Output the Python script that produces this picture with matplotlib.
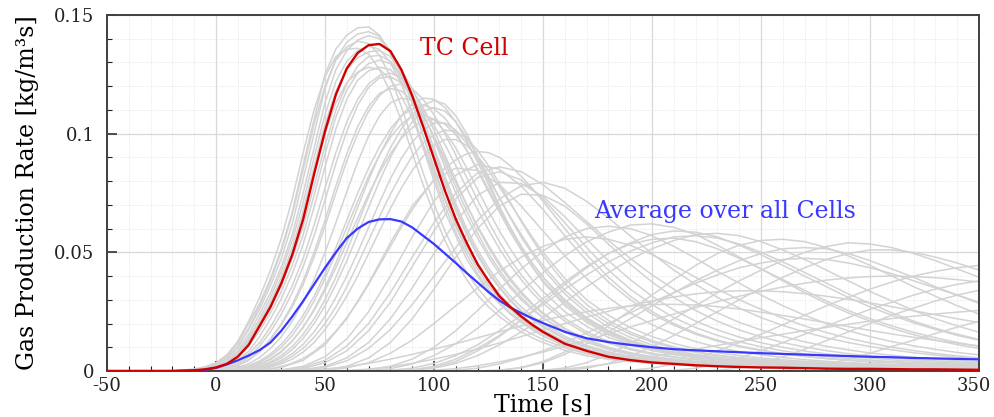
import numpy as np
import matplotlib
matplotlib.use("Agg")
import matplotlib.pyplot as plt
from matplotlib.ticker import MultipleLocator, FixedLocator, FuncFormatter
from matplotlib.transforms import ScaledTranslation

plt.rcParams["font.family"] = ["DejaVu Serif"]
plt.rcParams["axes.unicode_minus"] = False

# Sampling grids [s]: 5 s steps around the main reaction, 10 s elsewhere
t_fine = np.r_[np.arange(-50, -5, 10), np.arange(-5, 151, 5), np.arange(160, 351, 10)]
t_coarse = np.arange(-50, 351, 10)

# Rates below are in 1e-3 kg/(m^3 s)
tc_cell = [0, 0, 0, 0, 0.3, 0.7, 1.5, 3, 6, 11, 19, 27, 37, 49, 64, 83, 101, 116.5, 127.5, 134,
           137.3, 137.8, 134.8, 127, 116, 103, 89.5, 76, 64, 54, 45, 38, 31.5, 27, 23, 19.5, 16.5,
           11.5, 8.5, 6, 4.6, 3.6, 3, 2.4, 2, 1.7, 1.5, 1.4, 1.2, 1.0, 0.9, 0.9, 0.8, 0.7, 0.7, 0.6, 0.5]

cell_average = [0, 0, 0, 0, 0.2, 0.5, 1.3, 2.8, 4.5, 6.5, 8.8, 12, 17, 23, 29.5, 36.5, 43.5, 50, 56,
                60, 62.8, 63.9, 64, 63, 60.5, 57, 53.5, 49.5, 45.5, 41.3, 37.3, 33.3, 29.7, 26.8, 24.4,
                22.2, 20.2, 16.5, 13.8, 12.2, 11, 10, 9.2, 8.7, 8.3, 7.9, 7.5, 7.2, 6.9, 6.6, 6.3, 6,
                5.8, 5.5, 5.3, 5.1, 4.9]

# Early-reacting cells, sampled on t_fine
early_cells = [
    [0, 0, 0, 0, 0.7, 1.6, 3.2, 6.3, 11.6, 20, 28.4, 39, 51.5, 67, 87, 106, 125, 135.7, 141.5, 144.6,
     145, 141.5, 133.6, 122, 108, 94, 80, 67, 57, 47, 40, 33, 28.4, 24, 20.5, 17.4, 14.7, 10.5, 7.6,
     5.5, 4.3, 3.4, 2.7, 2.2, 1.9, 1.6, 1.45, 1.3, 1.1, 1.0, 0.9, 0.85, 0.8, 0.7, 0.65, 0.6, 0.5],
    [0, 0, 0, 0, 0.5, 1.1, 2.3, 4.5, 8.7, 15.5, 24, 33, 44, 57.5, 75, 94, 113, 127, 135, 139.5,
     141.3, 140, 134.5, 125, 113, 99.5, 86, 72.5, 61, 51, 43, 36, 30.5, 26, 22, 18.5, 16, 11.2, 8.2,
     6.0, 4.7, 3.8, 3.1, 2.6, 2.2, 1.9, 1.7, 1.5, 1.4, 1.2, 1.1, 1.0, 0.9, 0.9, 0.8, 0.7, 0.7],
    [0, 0, 0, 0, 0.4, 0.9, 1.8, 3.5, 6.5, 11.5, 18.5, 26.5, 36, 47.5, 61, 78, 95, 110, 121, 128.5,
     132.5, 133, 130.5, 124.5, 115, 103.5, 91, 79, 67.5, 57.5, 48.5, 41, 35, 29.5, 25, 21.5, 18.5,
     13.5, 10, 7.5, 5.8, 4.6, 3.8, 3.2, 2.8, 2.4, 2.1, 1.9, 1.7, 1.6, 1.4, 1.3, 1.2, 1.1, 1.0, 0.9, 0.9],
    [0, 0, 0, 0, 0.2, 0.5, 1.1, 2.3, 4.5, 8.3, 14.5, 22, 30.5, 41, 53.5, 69, 86, 102, 114.5, 122.5,
     126.5, 128, 127, 122.5, 114.5, 104, 92.5, 80.5, 69, 58.5, 49.5, 42, 35.5, 30, 25.5, 22, 19,
     13.8, 10.2, 7.6, 5.9, 4.7, 3.9, 3.3, 2.8, 2.5, 2.2, 2.0, 1.8, 1.6, 1.5, 1.4, 1.3, 1.2, 1.1, 1.0, 0.9],
    [0, 0, 0, 0, 0.1, 0.3, 0.7, 1.5, 3, 5.8, 10.5, 16.5, 24, 33, 44, 57, 72, 87.5, 101, 112, 119.5,
     123.5, 124, 121.5, 116, 108, 98.5, 88, 77.5, 67.5, 58, 49.5, 42.5, 36, 31, 26.5, 22.5, 16.5,
     12.2, 9.2, 7.1, 5.6, 4.6, 3.8, 3.2, 2.8, 2.5, 2.2, 2.0, 1.8, 1.7, 1.5, 1.4, 1.3, 1.2, 1.1, 1.0],
    [0, 0, 0, 0, 0.1, 0.2, 0.5, 1.1, 2.3, 4.5, 8.2, 13.5, 20, 28, 38, 50, 63.5, 78, 91.5, 103, 111.5,
     117, 119, 118, 114, 107.5, 99, 89.5, 79.5, 70, 61, 53, 45.5, 39, 33.5, 28.5, 24.5, 18, 13.3, 10,
     7.7, 6.1, 5, 4.1, 3.5, 3, 2.6, 2.3, 2.1, 1.9, 1.8, 1.6, 1.5, 1.4, 1.3, 1.2, 1.1],
    [0, 0, 0, 0, 0.4, 1, 2, 4, 7.8, 14, 22, 31, 42, 55, 71, 90, 108, 122, 130.5, 135, 137, 135.5,
     130, 121, 109, 95.5, 82, 69.5, 58.5, 49, 41, 34.5, 29, 24.5, 21, 18, 15.5, 11, 8, 6, 4.6, 3.7,
     3.1, 2.6, 2.2, 1.9, 1.7, 1.5, 1.4, 1.3, 1.2, 1.1, 1, 0.9, 0.9, 0.8, 0.8],
    [0, 0, 0, 0, 0.6, 1.4, 2.8, 5.5, 10.3, 18, 27.5, 38, 50.5, 66, 85, 104, 120, 131, 136.5, 139,
     138, 133, 124, 111.5, 97.5, 83.5, 70.5, 59, 49.5, 41.5, 35, 29.5, 25, 21, 18, 15.5, 13.3, 9.7,
     7.2, 5.5, 4.3, 3.5, 2.9, 2.5, 2.1, 1.8, 1.6, 1.4, 1.3, 1.2, 1.1, 1.0, 0.9, 0.8, 0.8, 0.7, 0.7],
    [0, 0, 0, 0, 0, 0.1, 0.3, 0.7, 1.5, 3, 5.7, 9.5, 14.5, 21, 29, 38.5, 50, 62.5, 75.5, 88, 99,
     107.5, 113, 115, 114, 110, 103.5, 95.5, 86.5, 77, 68, 59.5, 51.5, 44.5, 38.5, 33, 28.5, 21, 15.5,
     11.7, 9, 7.1, 5.8, 4.8, 4, 3.4, 3, 2.6, 2.4, 2.1, 2, 1.8, 1.7, 1.6, 1.5, 1.4, 1.3],
    [0, 0, 0, 0, 0.6, 1.3, 2.7, 5.3, 10, 17.5, 26, 36, 47.5, 62, 81, 100, 119, 131.5, 138.5, 142,
     143, 141, 135, 125.5, 113, 99, 85, 72, 61, 51, 43, 36, 30.5, 26, 22, 18.8, 16, 11.3, 8.2, 6,
     4.7, 3.8, 3.1, 2.6, 2.2, 1.9, 1.7, 1.5, 1.3, 1.2, 1.1, 1.0, 0.9, 0.8, 0.8, 0.7, 0.7],
    [0, 0, 0, 0, 0.4, 1, 2, 3.8, 7.2, 13, 20.5, 29, 39.5, 52, 67.5, 86, 104, 118, 127, 132, 134.5,
     135, 132.5, 127, 119, 109, 97.5, 86, 75, 65, 56, 48, 41, 35, 30, 26, 22.5, 16.5, 12.2, 9.1, 7,
     5.5, 4.4, 3.6, 3, 2.6, 2.3, 2, 1.8, 1.6, 1.5, 1.4, 1.3, 1.2, 1.1, 1, 1],
    [0, 0, 0, 0, 0.3, 0.7, 1.5, 3, 5.8, 10.5, 17, 24.5, 33.5, 44.5, 57.5, 74, 91.5, 107, 118.5, 125.5,
     129.5, 131, 129.5, 124.5, 116.5, 106, 94, 82, 70.5, 60, 51, 43.5, 37, 31.5, 27, 23, 20, 14.6,
     10.8, 8.1, 6.2, 4.9, 4, 3.3, 2.8, 2.4, 2.1, 1.9, 1.7, 1.6, 1.4, 1.3, 1.2, 1.1, 1.1, 1, 0.9],
    [0, 0, 0, 0, 0.2, 0.4, 0.9, 2, 3.9, 7.2, 12, 18.5, 26.5, 36, 47.5, 61.5, 77, 92, 105, 114.5, 121,
     124.5, 125.5, 123.5, 118.5, 111, 101.5, 91, 80.5, 70, 60.5, 52, 44.5, 38, 32.5, 28, 24, 17.6, 13,
     9.8, 7.5, 5.9, 4.8, 3.9, 3.3, 2.9, 2.5, 2.2, 2, 1.8, 1.7, 1.5, 1.4, 1.3, 1.2, 1.1, 1.0],
    [0, 0, 0, 0, 0.1, 0.2, 0.5, 1.2, 2.5, 4.8, 8.3, 13.2, 19.5, 27, 36.5, 48, 61, 75, 88.5, 100, 109.5,
     116, 120, 121, 119, 114.5, 108, 100, 91, 81.5, 72, 63, 54.5, 47, 40.5, 35, 30, 22.2, 16.5, 12.4,
     9.5, 7.5, 6, 4.9, 4.1, 3.5, 3, 2.7, 2.4, 2.2, 2, 1.8, 1.7, 1.6, 1.5, 1.4, 1.3],
    [0, 0, 0, 0, 0.8, 1.8, 3.5, 6.8, 12.5, 21, 31, 42.5, 56, 72.5, 92, 110, 124, 132.5, 135.5, 136,
     133.5, 127, 117.5, 105.5, 92, 78.5, 66, 55, 46, 38.5, 32, 27, 23, 19.5, 16.5, 14, 12, 8.7, 6.4,
     4.9, 3.9, 3.2, 2.7, 2.3, 2, 1.7, 1.5, 1.3, 1.2, 1.1, 1.0, 0.9, 0.8, 0.8, 0.7, 0.7, 0.6],
    [0, 0, 0, 0, 0.4, 0.9, 1.9, 3.7, 7, 12.5, 19.5, 28, 38, 50, 65, 83, 100, 113, 121.5, 126, 128,
     127, 123, 116, 106.5, 95.5, 84, 72.5, 62, 52.5, 44.5, 38, 32.5, 27.5, 23.5, 20, 17.3, 12.5, 9.2,
     6.9, 5.3, 4.2, 3.4, 2.8, 2.4, 2.1, 1.8, 1.6, 1.5, 1.3, 1.2, 1.1, 1, 1, 0.9, 0.8, 0.8],
    [0, 0, 0, 0, 0, 0, 0.2, 0.5, 1.1, 2.2, 4.2, 7.2, 11.3, 16.7, 23.5, 31.5, 41, 52, 63.5, 75, 85.5,
     94.5, 102, 107.5, 110.5, 112, 110.5, 106.5, 100.5, 93, 84.5, 75.5, 67, 58.5, 51, 44, 38, 28.5,
     21.3, 16, 12.2, 9.5, 7.6, 6.2, 5.1, 4.3, 3.7, 3.2, 2.9, 2.6, 2.3, 2.1, 1.9, 1.8, 1.7, 1.6, 1.5],
    [0, 0, 0, 0, 0, 0, 0.1, 0.3, 0.7, 1.4, 2.7, 4.8, 8, 12.5, 18.5, 26, 35, 45.5, 57, 69, 80.5, 91,
     100, 107.5, 112.5, 115, 114.5, 111, 105, 97, 88, 78.5, 69, 60.5, 52.5, 45.5, 39.5, 29.5, 22,
     16.5, 12.6, 9.8, 7.8, 6.3, 5.2, 4.4, 3.8, 3.3, 2.9, 2.6, 2.3, 2.1, 1.9, 1.8, 1.7, 1.6, 1.5],
    [0, 0, 0, 0, 0, 0, 0, 0.2, 0.4, 0.9, 1.8, 3.3, 5.6, 9, 13.8, 20, 27.5, 36.5, 46.5, 57.5, 69, 80,
     90, 98.5, 105, 109.5, 111, 109.5, 105, 98.5, 90.5, 82, 73, 64.5, 56.5, 49.5, 43, 32.5, 24.5,
     18.5, 14.2, 11, 8.7, 7, 5.8, 4.9, 4.2, 3.6, 3.2, 2.8, 2.5, 2.3, 2.1, 1.9, 1.8, 1.7, 1.6],
    [0, 0, 0, 0, 0, 0, 0, 0, 0.3, 0.7, 1.4, 2.6, 4.5, 7.3, 11.3, 16.5, 23, 31, 40, 50, 60.5, 71, 81,
     89.5, 96.5, 101.5, 104.5, 104.5, 101.5, 96, 89, 81, 73, 65, 57.5, 50.5, 44.5, 34, 26, 20, 15.5,
     12.2, 9.7, 7.9, 6.5, 5.5, 4.7, 4.1, 3.6, 3.2, 2.9, 2.6, 2.4, 2.2, 2, 1.9, 1.8],
    [0, 0, 0, 0, 0, 0, 0.2, 0.5, 1, 2, 3.7, 6.3, 10, 15, 21.5, 29.5, 39, 49.5, 60.5, 71.5, 82, 91,
     98.5, 104, 107.5, 108, 106, 101, 94, 85.5, 76.5, 67.5, 59, 51.5, 44.5, 38.5, 33.5, 25, 18.8,
     14.2, 11, 8.6, 6.9, 5.6, 4.7, 4, 3.4, 3, 2.7, 2.4, 2.1, 1.9, 1.8, 1.7, 1.6, 1.5, 1.4],
    [0, 0, 0, 0, 0, 0, 0, 0, 0, 0.4, 0.9, 1.7, 3, 5, 8, 12, 17.5, 24, 31.5, 40, 49.5, 59, 68.5, 77,
     84.5, 90.5, 95, 97.5, 97.5, 95, 90.5, 84.5, 77.5, 70.5, 63.5, 56.5, 50, 39, 30, 23.5, 18.3, 14.5,
     11.6, 9.4, 7.7, 6.5, 5.5, 4.7, 4.1, 3.6, 3.2, 2.9, 2.6, 2.4, 2.2, 2.1, 1.9],
    [0, 0, 0, 0, 0, 0, 0, 0.2, 0.5, 1.1, 2.1, 3.8, 6.5, 10.3, 15.5, 22, 30, 39.5, 50.5, 62, 73.5,
     84.5, 94, 102, 108, 112, 114, 112.5, 107.5, 100, 90.5, 80, 69.5, 60, 51.5, 44, 37.5, 27.5, 20.5,
     15.3, 11.7, 9.1, 7.2, 5.8, 4.8, 4, 3.4, 3, 2.6, 2.3, 2.1, 1.9, 1.8, 1.6, 1.5, 1.4, 1.3],
    [0, 0, 0, 0, 0, 0, 0, 0, 0.2, 0.5, 1.1, 2.1, 3.7, 6.2, 9.6, 14.2, 20, 27, 35.5, 45, 55, 65, 74.5,
     83, 90.5, 96, 99.5, 101.5, 101, 98, 93, 86.5, 79, 71, 63, 55.5, 48.5, 37, 28, 21.3, 16.4, 12.8,
     10.2, 8.2, 6.7, 5.6, 4.8, 4.1, 3.6, 3.2, 2.9, 2.6, 2.4, 2.2, 2, 1.9, 1.8],
    [0, 0, 0, 0, 0, 0, 0.1, 0.3, 0.8, 1.6, 3, 5.2, 8.4, 12.8, 18.5, 25.5, 34, 43.5, 54, 64.5, 74.5,
     83.5, 91.5, 98, 102.5, 105.5, 106, 104, 99.5, 93, 85, 76.5, 68, 60, 52.5, 45.5, 39.5, 30, 22.5,
     17, 13, 10.1, 8, 6.5, 5.3, 4.5, 3.8, 3.3, 2.9, 2.6, 2.3, 2.1, 1.9, 1.8, 1.7, 1.6, 1.5],
    [0, 0, 0, 0, 0, 0, 0, 0, 0, 0.2, 0.5, 1, 1.9, 3.3, 5.3, 8.2, 12, 16.8, 22.5, 29, 36.5, 44.5,
     52.5, 60.5, 68, 74.5, 80.5, 85.5, 89, 91.5, 92.5, 92, 90, 86.5, 82, 77, 71.5, 60, 49, 39.5, 31.5,
     25, 20, 16, 13, 10.6, 8.8, 7.3, 6.2, 5.3, 4.6, 4, 3.6, 3.2, 2.9, 2.6, 2.4],
]

# Later-reacting cells on t_coarse; each list runs up to t = 350 s, zero before its first entry
late_cells = [
    [0.5, 2, 6, 13.5, 25, 40, 56.5, 71.5, 82.5, 87, 85, 78, 68, 57, 46.5, 37.5, 30, 24, 19.3, 15.5,
     12.6, 10.3, 8.6, 7.2, 6.1, 5.2, 4.5, 3.9, 3.5, 3.1, 2.8, 2.5, 2.3],
    [0.2, 1, 3.5, 8.5, 17, 29, 44, 59, 72.5, 81.5, 84, 80.5, 72.5, 62.5, 52, 42.5, 34.5, 28, 22.5,
     18.3, 15, 12.3, 10.2, 8.5, 7.2, 6.1, 5.3, 4.6, 4, 3.6, 3.2, 2.9, 2.6],
    [0.5, 2, 5.5, 12, 22, 35, 49.5, 63, 74, 79.5, 79, 73.5, 65, 55.5, 46.5, 38.5, 31.5, 25.7, 21,
     17.3, 14.3, 11.9, 10, 8.4, 7.2, 6.2, 5.4, 4.7, 4.2, 3.7, 3.3, 3],
    [0.3, 1.5, 4.5, 11, 22, 37, 54, 69.5, 80.5, 85.5, 84.5, 78.5, 69.5, 59, 48.5, 39, 31, 24.5, 19.5,
     15.5, 12.4, 10, 8.2, 6.8, 5.7, 4.8, 4.1, 3.6, 3.1, 2.8, 2.5, 2.2, 2, 1.8],
    [0.5, 2, 5.5, 12, 22, 34.5, 48, 60, 69.5, 74.5, 74, 69.5, 62, 53.5, 45, 37.5, 31, 25.5, 21, 17.3,
     14.4, 12, 10.1, 8.6, 7.3, 6.3, 5.5, 4.8, 4.3, 3.8, 3.4],
    [0.3, 1.5, 4.5, 10.5, 20, 33, 48, 62.5, 75, 83.5, 86, 84, 78.5, 71, 63, 55, 47.5, 40.5, 34.5, 29,
     24.5, 20.5, 17.3, 14.6, 12.3, 10.4, 8.9, 7.6, 6.6, 5.7, 5, 4.4, 3.9],
    [0.3, 1.5, 4.3, 9.5, 17.5, 28, 40, 52, 63.5, 72.5, 78, 79.5, 77, 71.5, 64.5, 57, 49.5, 42.5, 36.5,
     31, 26.5, 22.5, 19.2, 16.4, 14, 12, 10.3, 8.9, 7.7, 6.7, 5.8, 5.1],
    [0.5, 2, 5, 10, 17, 25.5, 34.5, 43, 50.5, 56.5, 60, 61, 60, 57, 52.5, 47.5, 42, 37, 32, 27.5,
     23.5, 20, 17, 14.5, 12.4, 10.6, 9.1, 7.8, 6.8],
    [0.2, 1, 3, 6.5, 11.5, 18, 25.5, 33.5, 41.5, 48.5, 54.5, 58.5, 61.5, 62, 60.5, 57.5, 53, 48, 43,
     38, 33, 28.5, 24.5, 21, 18, 15.3, 13, 11.1, 9.5],
    [0.3, 1.2, 3.2, 6.5, 11, 17, 23.5, 30.5, 37.5, 44, 49.5, 54, 57.5, 59, 58.5, 56.5, 53, 49, 44.5,
     40, 35.5, 31, 27, 23.5, 20.3, 17.5, 15, 13],
    [0.3, 1.3, 3.5, 7.5, 13, 20, 27.5, 35, 42, 48, 52.5, 55.5, 56.5, 55.5, 53, 49, 44.5, 39.5, 34.5,
     30, 26, 22.3, 19, 16.2, 13.8, 11.8, 10, 8.6, 7.4, 6.4, 5.5],
    [0.3, 1.5, 4, 8.5, 14.5, 21.5, 29, 36.5, 43.5, 49.5, 53.5, 55.5, 56, 54.5, 51.5, 47.5, 43, 38.5,
     34, 29.5, 25.5, 22, 19, 16.3, 14, 12, 10.3],
    [0.3, 1.2, 3.2, 6.5, 11, 16.5, 22.5, 29, 35.5, 41.5, 47, 51.5, 55, 57.5, 58, 57, 54.5, 51, 47,
     42.5, 38, 33.5, 29.5, 25.5, 22, 19, 16.3],
    [0.3, 1.5, 4, 8, 13, 19, 25.5, 32, 38.5, 44.5, 49.5, 53, 55, 55.5, 54.5, 52, 48.5, 44.5, 40, 35.5,
     31.5, 27.5, 24],
    [0.5, 2, 5, 9.5, 15, 21.5, 28, 34.5, 40.5, 46, 50.5, 54, 56.5, 57, 56, 53.5, 50, 46, 41.5, 37,
     32.5, 28.5, 24.5, 21, 18, 15.5, 13.3],
    [0.3, 1.3, 3.5, 7, 11.5, 16.5, 22, 27.5, 33, 38, 42.5, 46.5, 50, 52.5, 54, 53.5, 52, 49.5, 46.5,
     43, 39.5],
    [0.3, 1.2, 3.2, 6.3, 10.3, 15, 20, 25, 30, 35, 39.5, 43.5, 47, 49.5, 51, 51, 50, 48, 45.5, 42.5],
    [0.3, 1.3, 3.5, 7, 11.5, 16.5, 22, 27.5, 33, 38, 42.5, 46.5, 49.5, 51.5, 52, 51.5, 49.5, 46.5, 43,
     39.5, 35.5, 32, 28.5],
    [0.3, 1.2, 3, 5.5, 8.5, 12, 15.5, 19.5, 23.5, 27.5, 31, 34.5, 37.5, 40, 42, 43.5, 44.5],
    [0.3, 1.2, 3, 5.5, 8.5, 12, 15.5, 19, 22.5, 26, 29, 32, 34.5, 36.5, 38],
    [0.3, 1.3, 3.2, 6, 9.2, 12.8, 16.5, 20, 23.5, 26.5, 29.5, 32, 34],
    [0.3, 1.2, 2.8, 5, 7.5, 10.3, 13, 15.8, 18.5, 21],
    [0.3, 1.2, 3, 5.5, 8.5, 12, 16, 20, 24.5, 29, 33, 37, 40.5, 43.5, 45.5, 47, 47.5, 47, 45.5, 43.5,
     41, 38, 35, 32, 29],
    [0.3, 1, 2.2, 3.8, 5.8, 8, 10.5, 13, 15.7, 18.5, 21.3, 24, 26.7, 29.2, 31.5, 33.6, 35.4, 37, 38.3,
     39.2, 39.8, 40, 39.8, 39.3, 38.5, 37.5],
    [0.2, 0.8, 1.8, 3, 4.5, 6, 7.6, 9.2, 10.8, 12.4, 14, 15.5, 17, 18.4, 19.7, 21, 22.1, 23.1, 24,
     24.8, 25.5],
    [0.2, 0.8, 1.8, 3.2, 5, 7, 9.3, 11.8, 14.5, 17.3, 20, 22.7, 25.2, 27.5, 29.5, 31.2, 32.5, 33.4,
     33.8, 33.8, 33.4, 32.6, 31.5, 30.2, 28.7, 27.1, 25.4, 23.7, 22, 20.4],
    [0.2, 0.8, 1.8, 3.2, 5, 7, 9.2, 11.5, 14, 16.5, 19, 21.3, 23.3, 25, 26.4, 27.4, 28, 28.1, 27.8,
     27.1, 26.1, 24.8, 23.4, 21.9, 20.3, 18.7, 17.1, 15.6, 14.2, 12.9, 11.7, 10.6],
]

x_ticks = [-50, 0, 50, 100, 150, 200, 250, 300, 350]
y_ticks = [0, 0.05, 0.1, 0.15]
y_tick_labels = ["0", "0.05", "0.1", "0.15"]

SCALE = 1e-3
GRAY = "#d3d3d3"
RED = "#d00000"
BLUE = "#3838ff"

fig = plt.figure(figsize=(9.95, 4.17), dpi=100)
ax = fig.add_axes([0.1075, 0.1103, 0.8765, 0.8537])

for vals in early_cells:
    assert len(vals) == len(t_fine)
    ax.plot(t_fine, np.asarray(vals) * SCALE, color=GRAY, lw=1.1, zorder=2)

for vals in late_cells:
    full = np.concatenate([np.zeros(len(t_coarse) - len(vals)), vals])
    ax.plot(t_coarse, full * SCALE, color=GRAY, lw=1.1, zorder=2)

assert len(cell_average) == len(t_fine) and len(tc_cell) == len(t_fine)
ax.plot(t_fine, np.asarray(cell_average) * SCALE, color=BLUE, lw=1.6, zorder=3)
ax.plot(t_fine, np.asarray(tc_cell) * SCALE, color=RED, lw=1.7, zorder=4)

ax.text(93.5, 0.136, "TC Cell", color=RED, fontsize=17, va="center", ha="left")
ax.text(173.5, 0.067, "Average over all Cells", color=BLUE, fontsize=17, va="center", ha="left")

ax.set_xlim(-50, 350)
ax.set_ylim(0, 0.15)
ax.xaxis.set_major_locator(FixedLocator(x_ticks))
ax.xaxis.set_minor_locator(MultipleLocator(10))
ax.yaxis.set_major_locator(FixedLocator(y_ticks))
ax.yaxis.set_minor_locator(MultipleLocator(0.01))
ax.yaxis.set_major_formatter(FuncFormatter(lambda v, p: y_tick_labels[y_ticks.index(round(v, 2))]
                                           if round(v, 2) in y_ticks else ""))

ax.grid(which="major", color="#d8d8d8", lw=0.9, ls="-", zorder=0)
ax.grid(which="minor", color="#e6e6e6", lw=0.6, ls=(0, (1.5, 1.5)), zorder=0)
ax.set_axisbelow(True)

ax.tick_params(which="both", direction="in", top=False, right=False, colors="#222222",
               labelsize=13)
ax.tick_params(axis="y", which="major", pad=9)
ax.tick_params(axis="x", which="major", pad=4.5)
ax.tick_params(which="major", length=7, width=1.1)
ax.tick_params(which="minor", length=3.5, width=0.8)

# keep the last time label inside the canvas
last_label = ax.get_xticklabels()[-1]
last_label.set_transform(last_label.get_transform()
                         + ScaledTranslation(-4 / 72, 0, fig.dpi_scale_trans))

for side, sp in ax.spines.items():
    sp.set_color("#404040")
    sp.set_linewidth(1.4)

ax.set_xlabel("Time [s]", fontsize=17, labelpad=-1)
ax.set_ylabel("Gas Production Rate [kg/m³s]", fontsize=17, labelpad=11)

fig.savefig("out.png", dpi=100)
